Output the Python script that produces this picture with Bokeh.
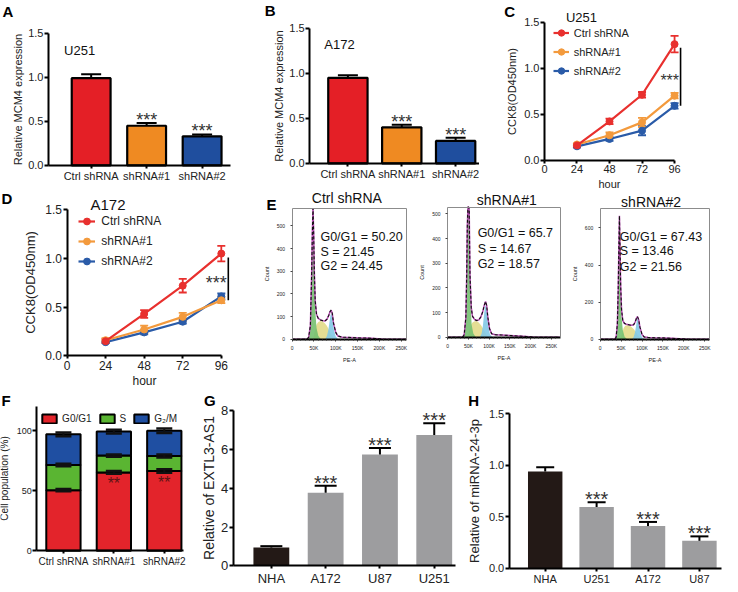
from bokeh.plotting import figure
from bokeh.layouts import row, column
from bokeh.models import (Range1d, FixedTicker, Label, Legend, LegendItem, Whisker, LinearAxis,
                          ColumnDataSource, TeeHead, PrintfTickFormatter)
from bokeh.embed import file_html
from bokeh.resources import INLINE

FONT = "Liberation Sans"

# ---------------- data: A / B (MCM4 expression) ----------------
mcm4_groups = ["Ctrl shRNA", "shRNA#1", "shRNA#2"]
mcm4_u251 = [0.99, 0.45, 0.33]
mcm4_u251_err = [0.045, 0.03, 0.022]
mcm4_a172 = [0.95, 0.40, 0.25]
mcm4_a172_err = [0.03, 0.03, 0.035]
mcm4_colors = ["#e41f26", "#ef8a22", "#1f4e9e"]
mcm4_yticks = [0, 0.5, 1.0, 1.5]

# ---------------- data: C / D (CCK8) ----------------
hours = [24, 48, 72, 96]
hour_ticks = [0, 24, 48, 72, 96]
cck8_groups = ["Ctrl shRNA", "shRNA#1", "shRNA#2"]
cck8_colors = ["#e8302e", "#f39a3d", "#2a5ba8"]
u251_ctrl = [0.16, 0.42, 0.71, 1.26]
u251_ctrl_err = [0.02, 0.03, 0.03, 0.09]
u251_sh1 = [0.17, 0.27, 0.41, 0.70]
u251_sh1_err = [0.01, 0.03, 0.05, 0.03]
u251_sh2 = [0.15, 0.23, 0.32, 0.59]
u251_sh2_err = [0.01, 0.02, 0.05, 0.03]
a172_ctrl = [0.15, 0.43, 0.72, 1.05]
a172_ctrl_err = [0.02, 0.04, 0.07, 0.08]
a172_sh1 = [0.16, 0.27, 0.40, 0.57]
a172_sh1_err = [0.02, 0.04, 0.04, 0.03]
a172_sh2 = [0.14, 0.24, 0.35, 0.61]
a172_sh2_err = [0.01, 0.02, 0.02, 0.03]
cck8_yticks = [0, 0.5, 1.0, 1.5]

# ---------------- data: E (flow cytometry histograms, PE-A in K) ----------------
flow_titles = ["Ctrl shRNA", "shRNA#1", "shRNA#2"]
flow_g0g1 = ["50.20", "65.7", "67.43"]
flow_s = ["21.45", "14.67", "13.46"]
flow_g2 = ["24.45", "18.57", "21.56"]
flow_xticks = [0, 50, 100, 150, 200, 250]
flow_xlabels = ["0", "50K", "100K", "150K", "200K", "250K"]
flow_xminor = [10, 20, 30, 40, 60, 70, 80, 90, 110, 120, 130, 140, 160, 170, 180, 190, 210, 220, 230, 240, 260]

ctrl_g1_x = [36, 40, 43, 45, 46.5, 48, 49.5, 51, 53, 56, 60, 66]
ctrl_g1_y = [0, 25, 110, 300, 470, 580, 470, 290, 130, 50, 15, 0]
ctrl_s_x = [48, 52, 56, 60, 65, 70, 75, 80, 85, 90, 95, 100]
ctrl_s_y = [0, 35, 65, 76, 80, 78, 70, 58, 40, 20, 8, 0]
ctrl_g2_x = [76, 80, 83, 86, 88, 89.5, 91, 93, 96, 100, 106]
ctrl_g2_y = [0, 15, 40, 80, 106, 113, 106, 80, 40, 12, 0]
ctrl_t_x = [0, 34, 38, 42, 45, 46.5, 48, 49.5, 51, 53, 56, 60, 65, 70, 75, 80, 84, 87, 89.5, 92, 95, 100, 105, 115, 130, 150, 170, 190, 210, 262]
ctrl_t_y = [0, 0, 8, 60, 300, 470, 585, 470, 300, 170, 110, 92, 85, 82, 80, 88, 105, 122, 128, 115, 70, 30, 14, 9, 8, 6, 5, 3, 0, 0]

sh1_g1_x = [38, 42, 45, 47, 48.5, 50, 51.5, 53, 55, 58, 62, 68]
sh1_g1_y = [0, 30, 150, 400, 600, 680, 600, 380, 150, 50, 15, 0]
sh1_s_x = [48, 52, 56, 60, 65, 70, 75, 80, 85, 90, 95, 100]
sh1_s_y = [0, 25, 50, 60, 65, 66, 60, 50, 36, 20, 8, 0]
sh1_g2_x = [78, 82, 85, 88, 90, 91.5, 93, 95, 98, 102, 108]
sh1_g2_y = [0, 15, 45, 95, 122, 130, 122, 95, 45, 12, 0]
sh1_t_x = [0, 36, 40, 44, 46, 47.5, 49, 50.5, 52, 54, 57, 60, 65, 70, 75, 80, 85, 88, 91.5, 94, 97, 101, 106, 115, 130, 150, 170, 190, 210, 270]
sh1_t_y = [0, 0, 10, 80, 250, 450, 620, 680, 520, 250, 120, 85, 72, 68, 70, 82, 105, 128, 145, 130, 80, 35, 14, 10, 9, 7, 5, 3, 0, 0]

sh2_g1_x = [36, 40, 43, 44.5, 46, 47.5, 49, 51, 54, 58, 64]
sh2_g1_y = [0, 40, 200, 450, 640, 450, 250, 120, 50, 15, 0]
sh2_s_x = [48, 52, 56, 60, 65, 70, 75, 80, 85, 90, 95, 100]
sh2_s_y = [0, 30, 60, 72, 76, 74, 66, 55, 40, 22, 9, 0]
sh2_g2_x = [76, 80, 83, 86, 88, 89.5, 91, 93, 96, 100, 106]
sh2_g2_y = [0, 12, 35, 75, 105, 112, 105, 75, 35, 10, 0]
sh2_t_x = [0, 34, 38, 41, 43, 44.5, 46, 47.5, 49, 51, 54, 58, 63, 68, 74, 80, 84, 87, 89, 92, 95, 100, 105, 115, 130, 150, 170, 190, 210, 262]
sh2_t_y = [0, 0, 10, 80, 260, 480, 665, 480, 280, 160, 100, 85, 80, 78, 75, 78, 95, 115, 122, 105, 65, 25, 12, 9, 8, 7, 5, 3, 0, 0]

# ---------------- data: F (cell cycle distribution) ----------------
phase_groups = ["Ctrl shRNA", "shRNA#1", "shRNA#2"]
phase_labels = ["G0/G1", "S", "G\u2082/M"]
phase_g0g1 = [50.5, 65.3, 66.5]
phase_g0g1_err = [1.0, 1.2, 1.5]
phase_s = [21.0, 14.0, 12.5]
phase_s_err = [1.0, 1.0, 1.2]
phase_g2m = [25.5, 20.0, 21.0]
phase_g2m_err = [1.5, 1.5, 1.8]
phase_colors = ["#e3242b", "#5ab532", "#1f4fa2"]
phase_yticks = [0, 50, 100]

# ---------------- data: G / H ----------------
extl3_lines = ["NHA", "A172", "U87", "U251"]
extl3_vals = [0.95, 3.77, 5.74, 6.75]
extl3_err = [0.07, 0.36, 0.34, 0.60]
extl3_yticks = [0, 2, 4, 6, 8]
mir_lines = ["NHA", "U251", "A172", "U87"]
mir_vals = [0.94, 0.595, 0.41, 0.267]
mir_err = [0.04, 0.045, 0.04, 0.043]
mir_yticks = [0, 0.5, 1.0, 1.5]
nha_color = "#231916"
cell_color = "#9d9d9f"

# ---------------- layout helpers ----------------
SX = 722 / 738
SY = 588 / 592


def sx(v):
    return int(round(v * SX))


def sy(v):
    return int(round(v * SY))


class Panel:
    """A figure whose frame fills the whole canvas; axes sit at fixed data locations."""

    def __init__(self, box, area, xr, yr):
        self.box, self.area, self.xr, self.yr = box, area, xr, yr
        x0, y0, x1, y1 = box
        ax0, ay0, ax1, ay1 = area
        W = sx(x1) - sx(x0)
        H = sy(y1) - sy(y0)
        self.W, self.H = W, H
        lx0 = ax0 * SX - sx(x0)
        lx1 = ax1 * SX - sx(x0)
        ly0 = ay0 * SY - sy(y0)
        ly1 = ay1 * SY - sy(y0)
        self.kx = (lx1 - lx0) / (xr[1] - xr[0])
        self.ky = (ly1 - ly0) / (yr[1] - yr[0])
        self.X0 = xr[0] - lx0 / self.kx
        self.Y0 = yr[0] - (H - ly1) / self.ky
        p = figure(width=W, height=H, title=None,
                   x_range=Range1d(self.X0, self.X0 + W / self.kx),
                   y_range=Range1d(self.Y0, self.Y0 + H / self.ky),
                   output_backend="svg", toolbar_location=None)
        p.min_border = 0
        p.min_border_left = 0
        p.min_border_right = 0
        p.min_border_top = 0
        p.min_border_bottom = 0
        p.outline_line_color = None
        p.xgrid.visible = False
        p.ygrid.visible = False
        p.background_fill_color = "white"
        p.border_fill_color = "white"
        self.xa = p.below[0]
        self.ya = p.left[0]
        self.xa.fixed_location = yr[0]
        self.xa.bounds = (xr[0], xr[1])
        self.ya.fixed_location = xr[0]
        self.ya.bounds = (yr[0], yr[1])
        self.p = p

    def to_data(self, x, y):
        lx = x * SX - sx(self.box[0])
        ly = y * SY - sy(self.box[1])
        return self.X0 + lx / self.kx, self.Y0 + (self.H - ly) / self.ky

    def px(self, x, y):
        """ref coords -> local screen coords measured from bottom-left"""
        return x * SX - sx(self.box[0]), self.H - (y * SY - sy(self.box[1]))

    def text_at(self, x, y, txt, size, align="left", bold=False, color="black"):
        dx, dy = self.to_data(x, y)
        self.p.add_layout(Label(x=dx, y=dy, text=txt, text_font=FONT, text_font_size=size,
                                text_font_style="bold" if bold else "normal",
                                text_color=color, text_align=align, text_baseline="middle"))


def style_axis(ax, fs, lab_fs, tick_out=4, lw=2, color="black", ls=1, als=2):
    ax.axis_line_width = lw
    ax.axis_line_color = color
    ax.major_tick_line_width = lw
    ax.major_tick_line_color = color
    ax.major_tick_out = tick_out
    ax.major_tick_in = 0
    ax.minor_tick_out = 0
    ax.minor_tick_in = 0
    ax.major_label_text_font = FONT
    ax.major_label_text_font_size = f"{fs}px"
    ax.major_label_text_color = "#222222"
    ax.axis_label_text_font = FONT
    ax.axis_label_text_font_size = f"{lab_fs}px"
    ax.axis_label_text_font_style = "normal"
    ax.axis_label_text_color = "#222222"
    ax.major_label_standoff = ls
    ax.axis_label_standoff = als


def bar_panel(box, area, xr, yr, cats, vals, errs, colors, outline, yticks, fmt,
              ylabel, tick_fs, lab_fs, xlab_fs, cap, bar_w, star_fs, als=1):
    P = Panel(box, area, xr, yr)
    p = P.p
    xs = list(range(len(cats)))
    up = [v + e for v, e in zip(vals, errs)]
    src = ColumnDataSource(dict(x=xs, top=vals, up=up, color=colors))
    p.vbar(x="x", top="top", width=bar_w, fill_color="color",
           line_color="black" if outline else None, line_width=2.2, source=src)
    p.add_layout(Whisker(source=src, base="x", lower="top", upper="up",
                         line_color="black", line_width=2, level="overlay",
                         upper_head=TeeHead(size=cap, line_color="black", line_width=2),
                         lower_head=None))
    style_axis(P.xa, xlab_fs, lab_fs, tick_out=3, ls=2)
    P.xa.ticker = FixedTicker(ticks=xs)
    P.xa.major_label_overrides = {i: c for i, c in enumerate(cats)}
    style_axis(P.ya, tick_fs, lab_fs, tick_out=4, ls=1, als=als)
    P.ya.ticker = FixedTicker(ticks=yticks)
    if fmt:
        P.ya.formatter = PrintfTickFormatter(format=fmt)
    P.ya.axis_label = ylabel
    for i in xs[1:]:
        p.add_layout(Label(x=i, y=up[i] + 3.0 / P.ky, text="***", text_align="center",
                           text_baseline="middle", text_font=FONT,
                           text_font_size=f"{star_fs}px", text_color="#333333"))
    return P


def cck_panel(box, area, series, errs, title, title_xy, title_fs, tick_fs, lab_fs,
              leg_fs, leg_left, leg_first_center, item_h, leg_spacing, glyph_w, leg_standoff,
              star_fs, line_off_px, als):
    P = Panel(box, area, (0, 96), (0, 1.5))
    p = P.p
    items = []
    for name, vals, err, col in reversed(list(zip(cck8_groups, series, errs, cck8_colors))):
        src = ColumnDataSource(dict(x=hours, y=vals,
                                    lo=[v - e for v, e in zip(vals, err)],
                                    hi=[v + e for v, e in zip(vals, err)]))
        p.add_layout(Whisker(source=src, base="x", lower="lo", upper="hi",
                             line_color=col, line_width=1.8,
                             upper_head=TeeHead(size=8, line_color=col, line_width=1.8),
                             lower_head=TeeHead(size=8, line_color=col, line_width=1.8)))
        rl = p.line("x", "y", source=src, line_color=col, line_width=2.2)
        rp = p.scatter("x", "y", source=src, size=7, fill_color=col, line_color=col)
        items.insert(0, LegendItem(label=name, renderers=[rl, rp]))
    n = len(items)
    lh = n * item_h + (n - 1) * leg_spacing
    lx, ltop = P.px(leg_left, leg_first_center)
    ltop = ltop + item_h / 2
    leg = Legend(items=items, location=(lx, ltop - lh),
                 padding=0, margin=0, spacing=leg_spacing, glyph_height=item_h,
                 glyph_width=glyph_w, label_height=item_h, label_standoff=leg_standoff,
                 label_text_font=FONT, label_text_font_size=f"{leg_fs}px",
                 label_text_color="#222222", border_line_color=None,
                 background_fill_alpha=0)
    p.add_layout(leg)
    # significance bar
    xl = hours[-1] + line_off_px / P.kx
    top = series[0][-1] - 0.04
    bot = min(series[1][-1], series[2][-1])
    p.segment(x0=[xl], y0=[bot], x1=[xl], y1=[top], line_color="black", line_width=1.6)
    p.add_layout(Label(x=xl - 1.5 / P.kx, y=(top + bot) / 2 - 0.23 * star_fs / P.ky, text="***",
                       text_align="right", text_baseline="middle", text_font=FONT,
                       text_font_size=f"{star_fs}px", text_color="#333333"))
    P.text_at(title_xy[0], title_xy[1], title, f"{title_fs}px", color="#111111")
    style_axis(P.xa, tick_fs, tick_fs, tick_out=3, ls=2, als=1)
    P.xa.ticker = FixedTicker(ticks=hour_ticks)
    P.xa.axis_label = "hour"
    style_axis(P.ya, tick_fs, lab_fs, tick_out=4, ls=1, als=als)
    P.ya.ticker = FixedTicker(ticks=cck8_yticks)
    P.ya.formatter = PrintfTickFormatter(format="%.1f")
    P.ya.axis_label = "CCK8(OD450nm)"
    return P


GREEN = "#74c070"
YELLOW = "#e4dc8e"
CYAN = "#82c9e5"
MAGENTA = "#b84fb4"
BOX = "#8c8c8c"


def flow_panel(box, area, xr, yr, yticks, g1x, g1y, ssx, ssy, g2x, g2y, tx, ty,
               title, title_xy, stats, stat_x, stat_ys):
    P = Panel(box, area, xr, yr)
    p = P.p
    top = yr[1]
    # the tall G0/G1 peak runs into the top of the plot box
    g1c = [min(v, top) for v in g1y]
    tc = [min(v, top) for v in ty]
    p.varea(x=ssx, y1=0, y2=ssy, fill_color=YELLOW, fill_alpha=0.95)
    p.varea(x=g1x, y1=0, y2=g1c, fill_color=GREEN, fill_alpha=0.9)
    p.varea(x=g2x, y1=0, y2=g2y, fill_color=CYAN, fill_alpha=0.9)
    p.line(tx, tc, line_color=MAGENTA, line_width=1.5)
    p.line(tx, tc, line_color="#111111", line_width=1.1, line_dash="3 2")
    xa, ya = P.xa, P.ya
    style_axis(xa, 5, 5.5, tick_out=2, lw=1, color="#333333", ls=4, als=2)
    xa.axis_line_width = 2
    xa.axis_line_color = "black"
    xa.minor_tick_out = 1
    xa.minor_tick_line_color = "#333333"
    xa.ticker = FixedTicker(ticks=flow_xticks, minor_ticks=flow_xminor)
    xa.major_label_overrides = {t: l for t, l in zip(flow_xticks, flow_xlabels)}
    xa.axis_label = "PE-A"
    style_axis(ya, 5, 5.5, tick_out=2, lw=1, color=BOX, ls=5, als=4)
    ya.major_tick_line_color = "#444444"
    ya.ticker = FixedTicker(ticks=yticks)
    ya.axis_label = "Count"
    # box edges (top / right) as plain axes with no ticks
    for side, loc, bnds in [("right", xr[1], yr), ("above", yr[1], xr)]:
        a = LinearAxis(fixed_location=loc, bounds=bnds, ticker=FixedTicker(ticks=[]),
                       axis_line_color=BOX, axis_line_width=1, major_tick_out=0,
                       major_label_text_font_size="0px")
        p.add_layout(a, side)
    P.text_at(title_xy[0], title_xy[1], title, "14px", align="center", color="#111111")
    texts = [f"G0/G1  = {stats[0]}", f"S = {stats[1]}", f"G2  = {stats[2]}"]
    for t, yy in zip(texts, stat_ys):
        P.text_at(stat_x, yy, t, "12.5px", color="#111111")
    return P


# ---------------- Panel A ----------------
PA = bar_panel((0, 0, 242, 189), (49, 33, 235, 166), (-0.77, 2.51), (0, 1.5), mcm4_groups,
               mcm4_u251, mcm4_u251_err, mcm4_colors, True, mcm4_yticks, "%.1f",
               "Relative MCM4 expression", 11, 11, 11, 20, 0.70, 18)
PA.text_at(65, 50.7, "U251", "13px", color="#111111")
PA.text_at(2, 11, "A", "15px", bold=True)

# ---------------- Panel B ----------------
PB = bar_panel((242, 0, 490, 189), (316, 28, 490, 164), (-0.71, 2.45), (0, 1.5), mcm4_groups,
               mcm4_a172, mcm4_a172_err, mcm4_colors, True, mcm4_yticks, "%.1f",
               "Relative MCM4 expression", 11, 11, 11, 20, 0.73, 18)
PB.text_at(331, 44, "A172", "13px", color="#111111")
PB.text_at(270, 10, "B", "15px", bold=True)

# ---------------- Panel C ----------------
PC = cck_panel((490, 0, 738, 189), (556, 21.7, 689, 160.7),
               [u251_ctrl, u251_sh1, u251_sh2], [u251_ctrl_err, u251_sh1_err, u251_sh2_err],
               "U251", (578, 16.7), 13, 11, 11, 11, 565, 33, 17, 2, 16, 5, 16, 6.0, 3)
PC.text_at(515, 11, "C", "15px", bold=True)

# ---------------- Panel D ----------------
PD = cck_panel((0, 189, 258, 393), (68, 210.7, 225.7, 357.7),
               [a172_ctrl, a172_sh1, a172_sh2], [a172_ctrl_err, a172_sh1_err, a172_sh2_err],
               "A172", (92, 205.7), 15, 12, 13, 12, 80, 222.3, 18, 2, 17, 6, 18, 7.0, 5)
PD.text_at(1, 199, "D", "15px", bold=True)

# ---------------- Panel E ----------------
PE1 = flow_panel((258, 189, 422, 393), (298, 209, 415, 341), (0, 262), (0, 579),
                 [0, 100, 200, 300, 400, 500],
                 ctrl_g1_x, ctrl_g1_y, ctrl_s_x, ctrl_s_y, ctrl_g2_x, ctrl_g2_y,
                 ctrl_t_x, ctrl_t_y, flow_titles[0], (354, 198.5),
                 [flow_g0g1[0], flow_s[0], flow_g2[0]], 327, [238.3, 253.3, 267.7])
PE1.text_at(272, 205, "E", "15px", bold=True)

PE2 = flow_panel((422, 189, 577, 393), (457, 208, 572, 339), (0, 271), (0, 528),
                 [0, 100, 200, 300, 400, 500],
                 sh1_g1_x, sh1_g1_y, sh1_s_x, sh1_s_y, sh1_g2_x, sh1_g2_y,
                 sh1_t_x, sh1_t_y, flow_titles[1], (517.5, 201),
                 [flow_g0g1[1], flow_s[1], flow_g2[1]], 487.7, [234.3, 250, 265])

PE3 = flow_panel((577, 189, 738, 393), (613, 209, 725, 341), (0, 262), (0, 707),
                 [0, 200, 400, 600],
                 sh2_g1_x, sh2_g1_y, sh2_s_x, sh2_s_y, sh2_g2_x, sh2_g2_y,
                 sh2_t_x, sh2_t_y, flow_titles[2], (665, 203),
                 [flow_g0g1[2], flow_s[2], flow_g2[2]], 633, [237.7, 252.7, 268.3])

# ---------------- Panel F ----------------
PF = Panel((0, 393, 205, 592), (37, 409, 187, 554), (-0.53, 2.38), (0, 120))
pF = PF.p
fx = list(range(len(phase_groups)))
srcF = ColumnDataSource(dict(x=fx, g1=phase_g0g1, s=phase_s, g2=phase_g2m))
rsF = pF.vbar_stack(["g1", "s", "g2"], x="x", width=0.68, source=srcF,
                    fill_color=phase_colors, line_color="black", line_width=2)
cum1 = phase_g0g1
cum2 = [a + b for a, b in zip(phase_g0g1, phase_s)]
cum3 = [a + b + c for a, b, c in zip(phase_g0g1, phase_s, phase_g2m)]
for cum, err in [(cum1, phase_g0g1_err), (cum2, phase_s_err), (cum3, phase_g2m_err)]:
    s_ = ColumnDataSource(dict(x=fx, lo=[c - e for c, e in zip(cum, err)],
                               hi=[c + e for c, e in zip(cum, err)]))
    pF.add_layout(Whisker(source=s_, base="x", lower="lo", upper="hi", line_color="#111111",
                          line_width=2, level="overlay",
                          upper_head=TeeHead(size=16, line_color="#111111", line_width=2.5),
                          lower_head=TeeHead(size=16, line_color="#111111", line_width=2.5)))
for i in fx[1:]:
    pF.add_layout(Label(x=i, y=phase_g0g1[i] - 11.5 / PF.ky, text="**", text_align="center",
                        text_baseline="middle", text_font=FONT, text_font_size="16px",
                        text_color="#5a1414"))
flx, fltop = PF.px(41, 421.7)
legF = Legend(items=[LegendItem(label=l, renderers=[r]) for l, r in zip(phase_labels, rsF)],
              orientation="horizontal", location=(flx, fltop + 6 - 12),
              padding=0, margin=0, spacing=6, glyph_height=11, glyph_width=18,
              label_height=12, label_width=0, label_standoff=4, label_text_font=FONT,
              label_text_font_size="10px", label_text_color="#222222",
              border_line_color=None, background_fill_alpha=0)
pF.add_layout(legF)
style_axis(PF.xa, 10, 10, tick_out=3, ls=2)
PF.xa.ticker = FixedTicker(ticks=fx)
PF.xa.major_label_overrides = {i: c for i, c in enumerate(phase_groups)}
style_axis(PF.ya, 9, 10, tick_out=4, ls=1, als=3)
PF.ya.ticker = FixedTicker(ticks=phase_yticks)
PF.ya.axis_label = "Cell population (%)"
PF.text_at(1, 403, "F", "15px", bold=True)

# ---------------- Panel G ----------------
PG = bar_panel((205, 393, 468, 592), (238, 413, 465, 569.3), (-0.70, 3.39), (0, 8), extl3_lines,
               extl3_vals, extl3_err, [nha_color] + [cell_color] * 3, False, extl3_yticks, None,
               "Relative of EXTL3-AS1", 13, 14, 13, 22, 0.66, 20)
PG.text_at(208, 403, "G", "15px", bold=True)

# ---------------- Panel H ----------------
PH = bar_panel((468, 393, 738, 592), (520, 416, 737, 571.7), (-0.70, 3.43), (0, 1.5), mir_lines,
               mir_vals, mir_err, [nha_color] + [cell_color] * 3, False, mir_yticks, "%.1f",
               "Relative of miRNA-24-3p", 11, 13, 11, 18, 0.67, 20, als=4)
PH.text_at(478, 403, "H", "15px", bold=True)

layout = column(row(PA.p, PB.p, PC.p, spacing=0),
                row(PD.p, PE1.p, PE2.p, PE3.p, spacing=0),
                row(PF.p, PG.p, PH.p, spacing=0), spacing=0)

open("out.html", "w").write(file_html(layout, INLINE))
